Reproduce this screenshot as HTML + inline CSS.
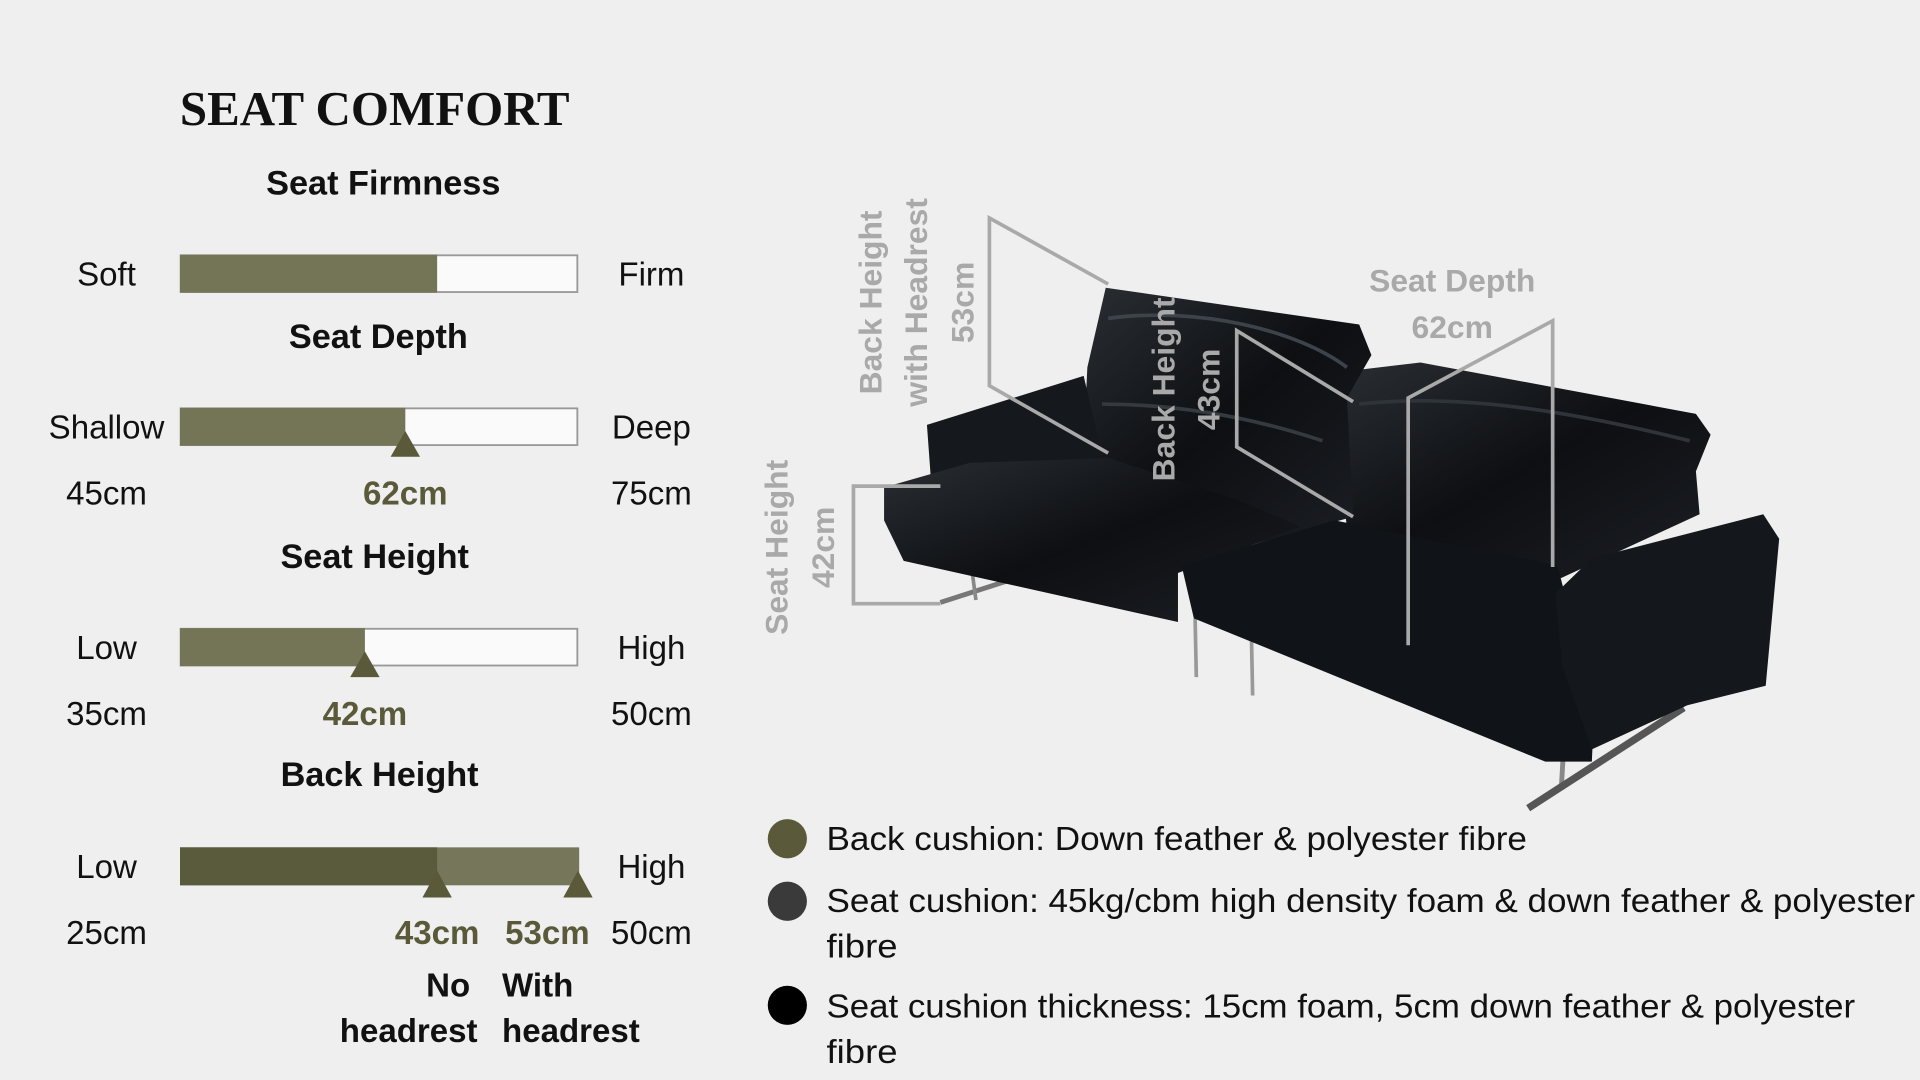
<!DOCTYPE html>
<html><head><meta charset="utf-8"><style>
html,body{margin:0;padding:0;background:#efefef;}
svg{display:block;}
text{font-family:"Liberation Sans",sans-serif;}
</style></head><body>
<svg width="1920" height="1080" viewBox="0 0 1568 882" xmlns="http://www.w3.org/2000/svg">
<rect width="1568" height="882" fill="#efefef"/>
<defs>
<linearGradient id="lg" x1="0" y1="0" x2="1" y2="1">
<stop offset="0" stop-color="#2a2e33"/><stop offset="0.5" stop-color="#0d0f12"/><stop offset="1" stop-color="#1c1f24"/>
</linearGradient>
</defs>
<text x="306" y="102" text-anchor="middle" font-weight="bold" font-size="40" fill="#111" style="font-family:'Liberation Serif',serif">SEAT COMFORT</text>

<g font-size="27" fill="#111">
<text x="313" y="159" text-anchor="middle" font-weight="bold" font-size="28">Seat Firmness</text>
<rect x="147.5" y="208.5" width="324" height="30" fill="#fafafa" stroke="#999" stroke-width="1.5"/>
<rect x="147" y="208" width="210" height="31" fill="#747456"/>
<text x="87" y="233" text-anchor="middle">Soft</text>
<text x="532" y="233" text-anchor="middle">Firm</text>

<text x="309" y="284" text-anchor="middle" font-weight="bold" font-size="28">Seat Depth</text>
<rect x="147.5" y="333.5" width="324" height="30" fill="#fafafa" stroke="#999" stroke-width="1.5"/>
<rect x="147" y="333" width="184" height="31" fill="#747456"/>
<polygon points="331,352 319,373 343,373" fill="#5a5a3a"/>
<text x="87" y="358" text-anchor="middle">Shallow</text>
<text x="532" y="358" text-anchor="middle">Deep</text>
<text x="87" y="412" text-anchor="middle">45cm</text>
<text x="331" y="412" text-anchor="middle" font-weight="bold" fill="#5a5a3a">62cm</text>
<text x="532" y="412" text-anchor="middle">75cm</text>

<text x="306" y="464" text-anchor="middle" font-weight="bold" font-size="28">Seat Height</text>
<rect x="147.5" y="513.5" width="324" height="30" fill="#fafafa" stroke="#999" stroke-width="1.5"/>
<rect x="147" y="513" width="151" height="31" fill="#747456"/>
<polygon points="298,532 286,553 310,553" fill="#5a5a3a"/>
<text x="87" y="538" text-anchor="middle">Low</text>
<text x="532" y="538" text-anchor="middle">High</text>
<text x="87" y="592" text-anchor="middle">35cm</text>
<text x="298" y="592" text-anchor="middle" font-weight="bold" fill="#5a5a3a">42cm</text>
<text x="532" y="592" text-anchor="middle">50cm</text>

<text x="310" y="642" text-anchor="middle" font-weight="bold" font-size="28">Back Height</text>
<rect x="147" y="692" width="326" height="31" fill="#76765a"/>
<rect x="147" y="692" width="210" height="31" fill="#5a5a3c"/>
<polygon points="357,711 345,733 369,733" fill="#5a5a3a"/>
<polygon points="472,711 460,733 484,733" fill="#5a5a3a"/>
<text x="87" y="717" text-anchor="middle">Low</text>
<text x="532" y="717" text-anchor="middle">High</text>
<text x="87" y="771" text-anchor="middle">25cm</text>
<text x="357" y="771" text-anchor="middle" font-weight="bold" fill="#5a5a3a">43cm</text>
<text x="447" y="771" text-anchor="middle" font-weight="bold" fill="#5a5a3a">53cm</text>
<text x="532" y="771" text-anchor="middle">50cm</text>
<text x="384" y="814" text-anchor="end" font-weight="bold">No</text>
<text x="390" y="851" text-anchor="end" font-weight="bold">headrest</text>
<text x="410" y="814" font-weight="bold">With</text>
<text x="410" y="851" font-weight="bold">headrest</text>
</g>

<g>
<line x1="768" y1="492" x2="830" y2="472" stroke="#777" stroke-width="4"/>
<line x1="793" y1="460" x2="797" y2="490" stroke="#888" stroke-width="3"/>
<line x1="976" y1="505" x2="977" y2="553" stroke="#999" stroke-width="3"/>
<line x1="1022" y1="520" x2="1023" y2="568" stroke="#999" stroke-width="3"/>
<line x1="1277" y1="610" x2="1275" y2="645" stroke="#888" stroke-width="4"/>
<line x1="1248" y1="660" x2="1375" y2="578" stroke="#555" stroke-width="6"/>
<path d="M1090,330 L1110,302 L1160,296 L1385,338 L1397,355 L1385,385 L1388,420 L1275,472 L1100,432 Z" fill="url(#lg)"/>
<path d="M903,235 L1110,265 L1120,290 L1100,325 L1105,422 L1015,447 L884,385 L888,300 Z" fill="url(#lg)"/>
<path d="M757,347 L885,307 L900,372 L790,395 L760,388 Z" fill="#15181c"/>
<path d="M722,398 L792,378 L905,374 L1010,408 L1062,430 L962,468 L962,508 L738,458 L722,425 Z" fill="url(#lg)"/>
<path d="M965,462 L1090,425 L1272,462 L1292,540 L1302,578 L1300,622 L1262,622 L975,505 Z" fill="#101317"/>
<path d="M1270,485 L1300,456 L1440,420 L1453,440 L1442,560 L1378,576 L1300,612 L1276,545 Z" fill="#14171b"/>
<path d="M905,260 C980,250 1060,270 1100,300" stroke="#3d434a" stroke-width="3" fill="none"/>
<path d="M900,330 C960,330 1020,340 1080,360" stroke="#333a40" stroke-width="3" fill="none"/>
<path d="M1110,330 C1200,320 1300,340 1380,360" stroke="#2e3439" stroke-width="3" fill="none"/>
</g>

<g stroke="#a9a9a9" stroke-width="3" fill="none">
<polyline points="768,397 697,397 697,493 768,493"/>
<polyline points="905,232 808,178 808,315 905,370"/>
<polyline points="1105,328 1010,270 1010,365 1105,422"/>
<polyline points="1150,527 1150,325 1268,262 1268,463"/>
</g>
<g fill="#a9a9a9" font-weight="bold" font-size="26" text-anchor="middle">
<text transform="translate(720,247) rotate(-90)">Back Height</text>
<text transform="translate(757,247) rotate(-90)">with Headrest</text>
<text transform="translate(795,247) rotate(-90)">53cm</text>
<text transform="translate(959,318) rotate(-90)">Back Height</text>
<text transform="translate(996,318) rotate(-90)">43cm</text>
<text transform="translate(643,447) rotate(-90)">Seat Height</text>
<text transform="translate(681,447) rotate(-90)">42cm</text>
<text x="1186" y="238">Seat Depth</text>
<text x="1186" y="276">62cm</text>
</g>

<circle cx="643" cy="685" r="16" fill="#5a5a3a"/>
<circle cx="643" cy="736" r="16" fill="#3a3a3a"/>
<circle cx="643" cy="821" r="16" fill="#000"/>
<g font-size="27" fill="#111">
<text x="675" y="694" textLength="572" lengthAdjust="spacingAndGlyphs">Back cushion: Down feather &amp; polyester fibre</text>
<text x="675" y="745" textLength="889" lengthAdjust="spacingAndGlyphs">Seat cushion: 45kg/cbm high density foam &amp; down feather &amp; polyester</text>
<text x="675" y="782" textLength="58" lengthAdjust="spacingAndGlyphs">fibre</text>
<text x="675" y="831" textLength="840" lengthAdjust="spacingAndGlyphs">Seat cushion thickness: 15cm foam, 5cm down feather &amp; polyester</text>
<text x="675" y="868" textLength="58" lengthAdjust="spacingAndGlyphs">fibre</text>
</g>
</svg>
</body></html>
